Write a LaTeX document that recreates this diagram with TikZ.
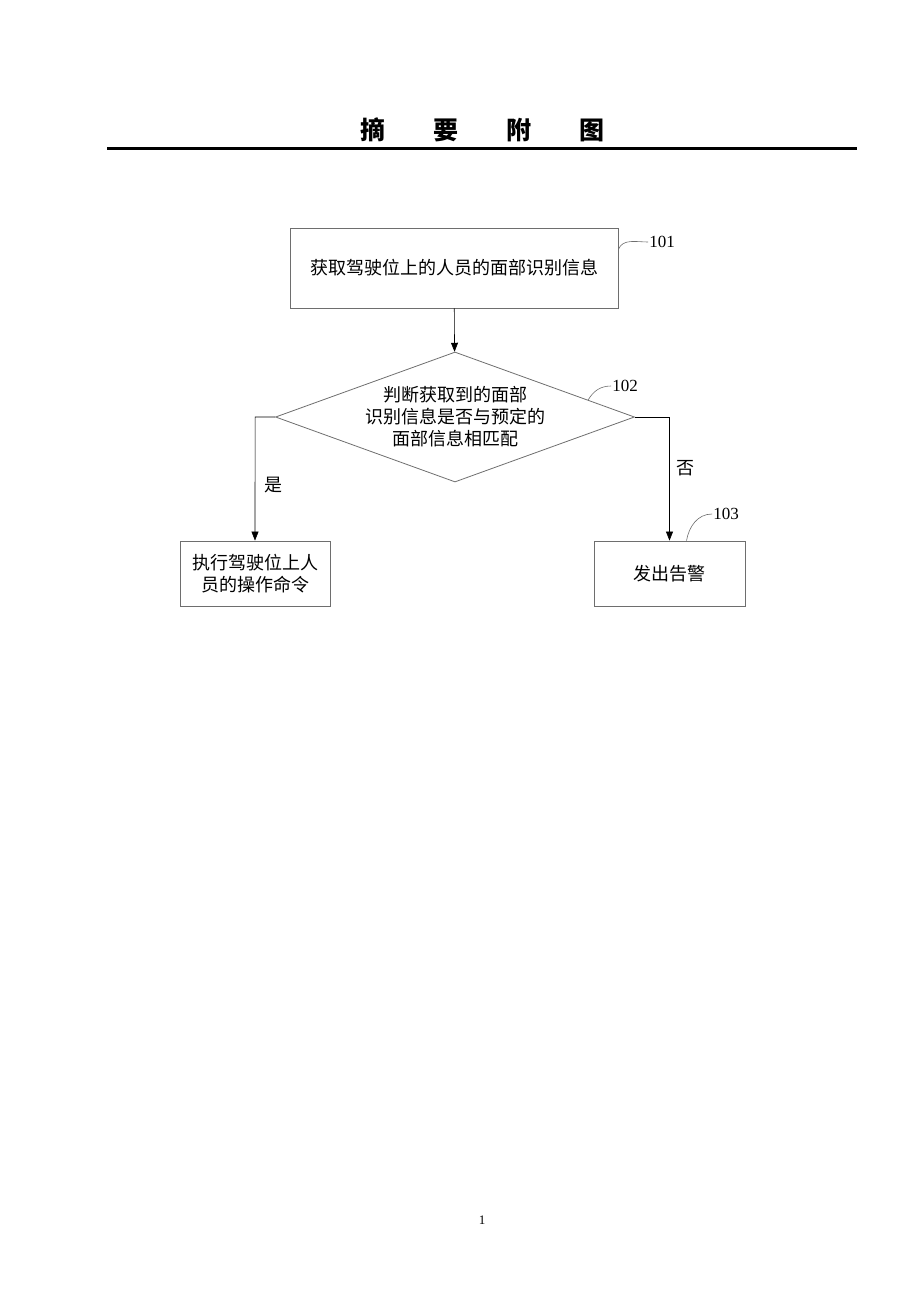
\documentclass[tikz,border=0pt]{standalone}
\usepackage{fontspec}
\setmainfont{Liberation Serif}
\newfontfamily\cjk{Noto Sans CJK SC}
\usepackage{tikz}
\usetikzlibrary{positioning,arrows.meta,shapes.geometric,calc}
\definecolor{colorline}{RGB}{110,110,110}

\begin{document}
\begin{tikzpicture}[
    x=1pt, y=-1pt,
    font={\cjk\fontsize{18}{22}\selectfont},
    base/.style={draw=colorline,line width=0.8pt,inner sep=0pt,align=center,rectangle},
    decision/.style={draw=colorline,line width=0.8pt,diamond,aspect=2.76,inner sep=0pt,align=center,
        minimum width=359pt,minimum height=130pt},
    numlabel/.style={font={\fontsize{17}{20}\selectfont},inner sep=1pt},
    flow/.style={draw=black,line width=0.6pt,-{Triangle[length=9pt,width=7pt]}},
    tag/.style={draw=colorline,line width=0.6pt},
]
    \useasboundingbox (0,0) rectangle (920,1302);

    % title
    \node (title) at (482,130) {\cjk\bfseries\fontsize{25}{25}\selectfont 摘\hspace{48pt}要\hspace{48pt}附\hspace{48pt}图};
    \draw[line width=3pt] (107,148) -- (857,148);

    \node[base,minimum width=328pt,minimum height=80pt] (acquire) at (454,268) {获取驾驶位上的人员的面部识别信息};
    \node[decision] (match) at (455,417) {判断获取到的面部\\识别信息是否与预定的\\面部信息相匹配};
    \node[base,minimum width=150pt,minimum height=65pt] (execute) at (255,573.5) {执行驾驶位上人\\员的操作命令};
    \node[base,minimum width=151pt,minimum height=65pt] (alarm) at (669.5,573.5) {发出告警};

    \node[numlabel] (n101) at (662,242) {101};
    \node[numlabel] (n102) at (625,386) {102};
    \node[numlabel] (n103) at (726,514) {103};

    \draw[flow] (acquire) -- (match);
    \draw[flow] (match.west) -- ++(-20,0) -- (execute.north -| 255,0) node[pos=0.55,right=6pt]{是};
    \draw[flow] (match.east) -| (alarm.north) node[pos=0.705,right=3pt]{否};

    \draw[tag] ($(acquire.north east)+(0,22)$) to[out=70,in=180] (n101.west);
    \draw[tag] ($(match.east)!0.26!(match.north)$) to[out=60,in=180] (n102.west);
    \draw[tag] ($(alarm.north)+(17,0)$) to[out=80,in=180] (n103.west);

    \node[font={\fontsize{13}{13}\selectfont}] (page) at (482,1220) {1};
\end{tikzpicture}
\end{document}
